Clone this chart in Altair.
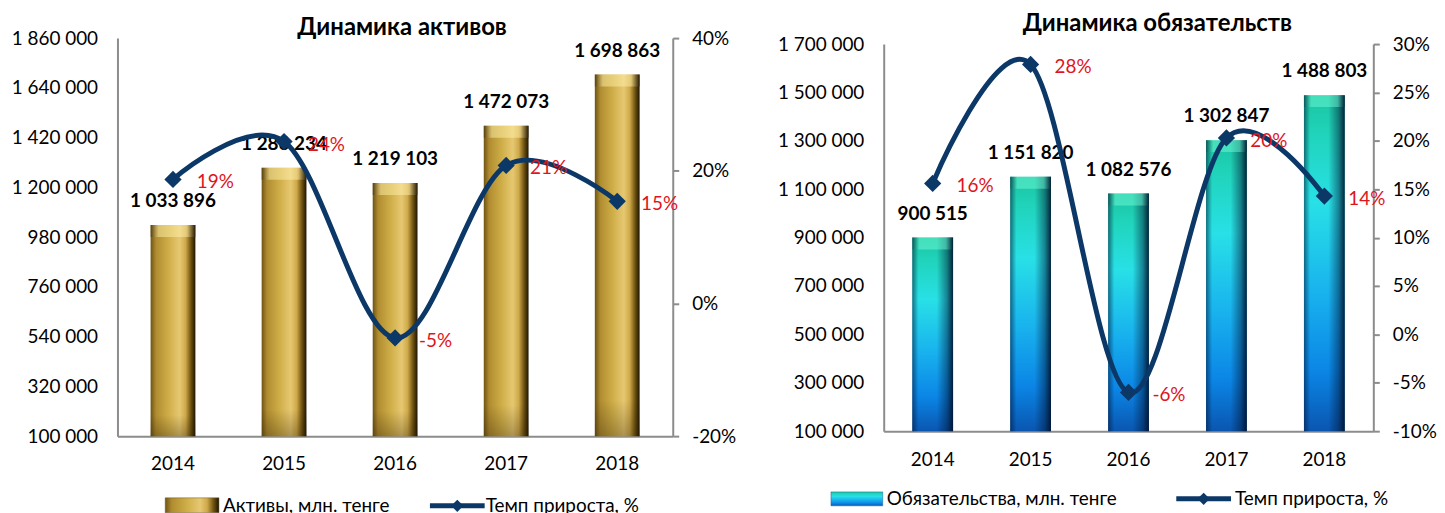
import altair as alt
import pandas as pd

years = ["2014", "2015", "2016", "2017", "2018"]
assets = [1033896, 1286234, 1219103, 1472073, 1698863]
assets_growth = [0.187, 0.244, -0.052, 0.208, 0.154]
liabilities = [900515, 1151820, 1082576, 1302847, 1488803]
liabilities_growth = [0.156, 0.279, -0.060, 0.203, 0.143]

left_ticks = [100000, 320000, 540000, 760000, 980000, 1200000, 1420000, 1640000, 1860000]
left_pct_ticks = [-0.2, 0.0, 0.2, 0.4]
right_ticks = [100000, 300000, 500000, 700000, 900000, 1100000, 1300000, 1500000, 1700000]
right_pct_ticks = [-0.10, -0.05, 0.0, 0.05, 0.10, 0.15, 0.20, 0.25, 0.30]

FONT = "Lato"
NAVY = "#0c3868"
RED = "#e0141c"
GREY = "#8c8c8c"
FS = 19


def grad(stops, vertical=False):
    return alt.LinearGradient(
        gradient="linear",
        x1=0, y1=0,
        x2=0 if vertical else 1,
        y2=1 if vertical else 0,
        stops=[alt.GradientStop(offset=o, color=c) for o, c in stops],
    )


gold = grad([(0, "#6e5414"), (0.12, "#b08c30"), (0.4, "#cfae48"), (0.65, "#e6c872"),
             (0.78, "#cfa94a"), (0.9, "#6e5210"), (1, "#1e1402")])
gold_shade = grad([(0, "rgba(40,25,0,0)"), (0.9, "rgba(40,25,0,0)"), (1, "rgba(40,25,0,0.3)")], vertical=True)
gold_top = grad([(0, "rgba(60,40,0,0.5)"), (0.18, "rgba(255,240,170,0.5)"), (0.82, "rgba(255,240,170,0.5)"),
                 (1, "rgba(40,25,0,0.6)")])
teal = grad([(0, "#1bc4a0"), (0.12, "#20d4bc"), (0.32, "#28e0e6"), (0.58, "#19b4ee"),
             (0.82, "#0b86e6"), (1, "#0a56b0")], vertical=True)
teal_shade = grad([(0, "rgba(0,20,50,0.55)"), (0.15, "rgba(0,20,50,0)"), (0.6, "rgba(0,20,50,0)"),
                   (0.85, "rgba(0,20,50,0.45)"), (1, "rgba(0,15,40,0.9)")])
teal_top = grad([(0, "rgba(0,60,60,0.3)"), (0.18, "rgba(120,255,220,0.45)"), (0.82, "rgba(120,255,220,0.45)"),
                 (1, "rgba(0,30,50,0.5)")])

NUM_EXPR = "replace(format(datum.value, ','), regexp(',', 'g'), ' ')"
PCT_EXPR = "replace(format(datum.value, '.0%'), '\u2212', '-')"


def panel(values, growth, fill, shade, top, ticks, pct_ticks, width, height, yrange,
          bar_size, title, title_x, title_y, legend_label, legend, anchor=False):
    df = pd.DataFrame({"year": years, "v": values, "g": growth})
    df["lbl"] = [f"{v:,}".replace(",", " ") for v in values]

    plot_h = (yrange[0] - yrange[1]) if yrange is not None else height
    bevel = 12 * (ticks[-1] - ticks[0]) / plot_h

    xenc = alt.X("year:N", sort=None, title=None,
                 scale=alt.Scale(paddingInner=0, paddingOuter=0),
                 axis=alt.Axis(labelFont=FONT, labelFontSize=FS, labelColor="black",
                               labelPadding=19, ticks=False, domainColor=GREY,
                               domainWidth=2, labelAngle=0, grid=False))
    sk = dict(domain=[ticks[0], ticks[-1]], nice=False, zero=False)
    pk = dict(domain=[pct_ticks[0], pct_ticks[-1]], nice=False, zero=False)
    if yrange is not None:
        sk["range"] = yrange
        pk["range"] = yrange
    yenc = alt.Y("v:Q", title=None, scale=alt.Scale(**sk),
                 axis=alt.Axis(orient="left", values=ticks, labelExpr=NUM_EXPR,
                               labelFont=FONT, labelFontSize=FS, labelColor="black",
                               labelPadding=20, ticks=False, domainColor=GREY,
                               domainWidth=2, grid=False))
    genc = alt.Y("g:Q", title=None, scale=alt.Scale(**pk),
                 axis=alt.Axis(orient="right", values=pct_ticks, labelExpr=PCT_EXPR,
                               labelFont=FONT, labelFontSize=FS, labelColor="black",
                               labelPadding=13, tickSize=6, tickColor=GREY, tickWidth=2,
                               domainColor=GREY, domainWidth=2, grid=False))

    base = alt.Chart(df).transform_calculate(
        vt=f"datum.v - {bevel}",
        pl="replace(format(datum.g, '.0%'), '\u2212', '-')",
    )
    bars = base.mark_bar(size=bar_size, fill=fill).encode(x=xenc, y=yenc, y2=alt.datum(ticks[0]))
    bars_sh = base.mark_bar(size=bar_size, fill=shade).encode(x=xenc, y=yenc, y2=alt.datum(ticks[0]))
    bars_top = base.mark_bar(size=bar_size, fill=top).encode(x=xenc, y=yenc, y2="vt:Q")
    vlabels = base.mark_text(color="black", font=FONT, fontSize=FS, fontWeight="bold",
                             baseline="middle", dy=-24).encode(x=xenc, y=yenc, text="lbl:N")
    bar_group = alt.layer(bars, bars_sh, bars_top, vlabels)

    line = base.mark_line(color=NAVY, strokeWidth=5, interpolate="cardinal").encode(x=xenc, y=genc)
    pts = base.mark_point(shape="diamond", filled=True, size=300, color=NAVY, opacity=1).encode(x=xenc, y=genc)
    pct = base.mark_text(color=RED, font=FONT, fontSize=FS, align="left", baseline="middle",
                         dx=24, dy=3).encode(x=xenc, y=genc, text="pl:N")
    line_group = alt.layer(line, pts, pct)

    one = alt.Chart(pd.DataFrame({"t": [title]}))
    ttl = one.mark_text(font=FONT, fontSize=24, fontWeight="bold", color="black").encode(
        x=alt.value(title_x), y=alt.value(title_y), text="t:N")

    (sw_x1, sw_x2, sw_y1, sw_y2, t1_x, ln_x1, ln_x2, t2_x, ly) = legend
    sw = one.mark_rect(fill=fill, stroke="#6a5a30" if fill is gold else "#1a5a9a", strokeWidth=0.5).encode(
        x=alt.value(sw_x1), x2=alt.value(sw_x2), y=alt.value(sw_y1), y2=alt.value(sw_y2))
    lt1 = alt.Chart(pd.DataFrame({"t": [legend_label]})).mark_text(
        font=FONT, fontSize=FS, align="left", baseline="middle", color="black").encode(
        x=alt.value(t1_x), y=alt.value(ly), text="t:N")
    lr = one.mark_rule(color=NAVY, strokeWidth=5).encode(
        x=alt.value(ln_x1), x2=alt.value(ln_x2), y=alt.value(ly))
    ld = one.mark_point(shape="diamond", filled=True, size=150, color=NAVY, opacity=1).encode(
        x=alt.value((ln_x1 + ln_x2) / 2), y=alt.value(ly))
    lt2 = alt.Chart(pd.DataFrame({"t": ["Темп прироста, %"]})).mark_text(
        font=FONT, fontSize=FS, align="left", baseline="middle", color="black").encode(
        x=alt.value(t2_x), y=alt.value(ly), text="t:N")

    layers = [bar_group, line_group, ttl, sw, lt1, lr, ld, lt2]
    if anchor:
        # invisible spacer that fixes the page offset of the plot area
        layers.append(one.mark_rect(opacity=0).encode(
            x=alt.value(-110), x2=alt.value(-109), y=alt.value(-29), y2=alt.value(-28)))
    ch = alt.layer(*layers).resolve_scale(y="independent")
    return ch.properties(width=width, height=height)


left = panel(assets, assets_growth, gold, gold_shade, gold_top, left_ticks, left_pct_ticks,
             558, 400, None, 45, "Динамика активов", 286, -10, "Активы, млн. тенге",
             (48, 102, 462, 477, 106, 314, 369, 370, 470), anchor=True)
right = panel(liabilities, liabilities_growth, teal, teal_shade, teal_top, right_ticks, right_pct_ticks,
              492, 395, [395, 6], 41, "Динамика обязательств", 275, -14,
              "Обязательства, млн. тенге",
              (-53, -1, 456, 470, 3, 294, 349, 353, 463))

chart = alt.hconcat(left, right, spacing=212, bounds="flush").properties(
    padding=0,
    background="white",
).configure_view(stroke=None)

chart.save("out.html", embed_options={"renderer": "svg", "actions": False})
